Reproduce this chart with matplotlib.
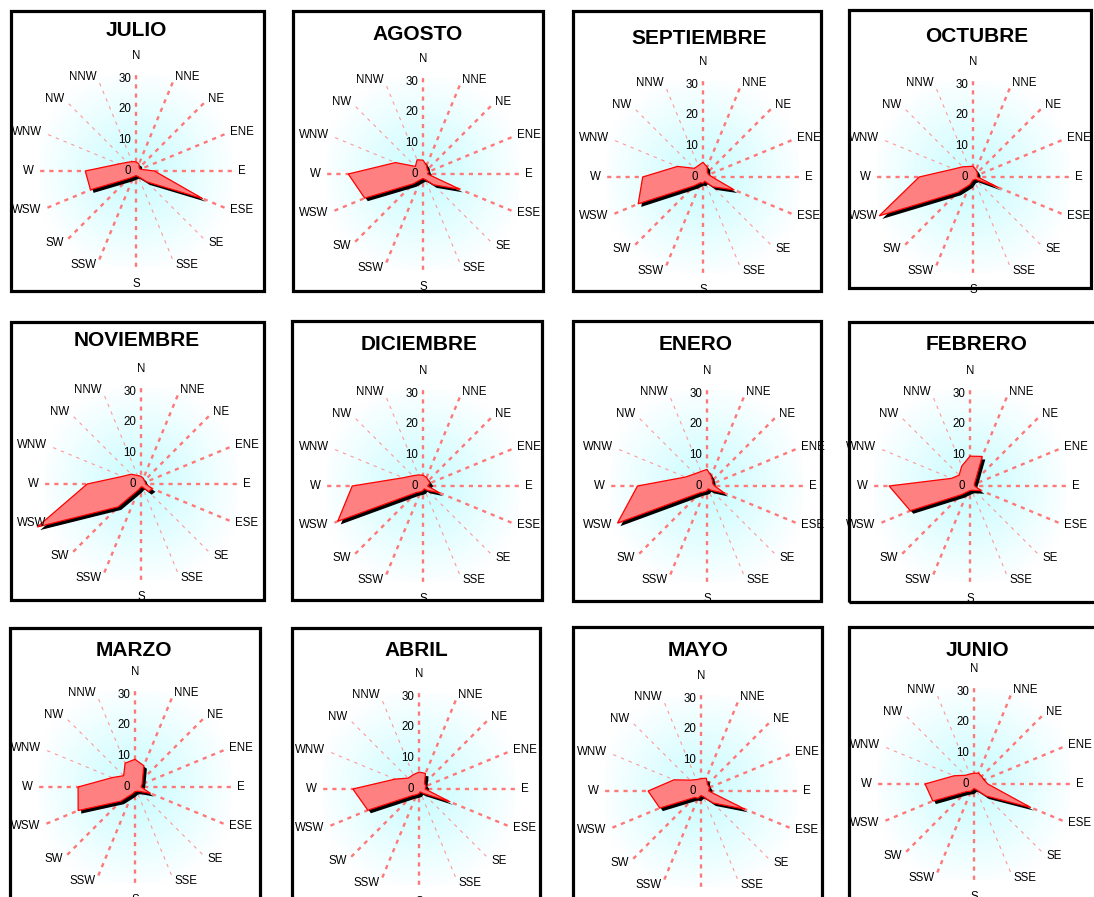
import numpy as np
import matplotlib
matplotlib.use("Agg")
from matplotlib import pyplot as plt
from matplotlib.patches import Rectangle
import matplotlib.patheffects as pe

plt.rcParams['font.family'] = ['Liberation Sans', 'DejaVu Sans']
plt.rcParams['lines.scale_dashes'] = False

W_PX, H_PX = 1094, 897

directions = ["N", "NNE", "NE", "ENE", "E", "ESE", "SE", "SSE",
              "S", "SSW", "SW", "WSW", "W", "WNW", "NW", "NNW"]
radial_ticks = [0, 10, 20, 30]

# wind frequency per direction (same order as directions)
julio = [3, 2.5, 1.5, 1.5, 6, 23.5, 5, 2, 1.5, 2, 3.5, 16, 16.5, 6, 4, 3.3]
agosto = [4.5, 3, 2, 2, 1.5, 13, 5, 2, 1.5, 2, 4.5, 20.5, 24.3, 9.7, 3.5, 5]
septiembre = [4.8, 3.5, 2, 2, 3, 11, 4.5, 1.5, 2, 2, 4, 22.8, 19.6, 9, 4, 4]
octubre = [3.5, 2.5, 2, 1.5, 1.5, 9, 1, 1, 1, 2.7, 7, 33, 17.5, 6.8, 4.7, 3.7]
noviembre = [2.5, 2, 1.5, 1.5, 1.5, 4, 3.5, 1, 1, 2, 10.5, 36.5, 17.5, 6.5, 4.5, 3]
diciembre = [3.5, 3, 2.5, 2.5, 1.5, 6, 2, 1, 1.5, 2, 3, 30, 23, 7, 4.7, 3.9]
enero = [5.4, 3.5, 2.5, 2, 2.5, 6.3, 2, 1, 1.5, 2, 3, 31.5, 22.6, 7.6, 5.6, 5.1]
febrero = [9.7, 10.4, 2.5, 1.5, 1.5, 4, 2, 1.5, 1.5, 2, 4, 21, 26.3, 6.5, 5, 7]
marzo = [9, 7.5, 3.5, 2.5, 2, 5.5, 2, 1.5, 1.5, 2.5, 6.5, 20, 18.5, 8, 5.2, 8.4]
abril = [5.5, 5.5, 2.5, 2.5, 2, 11, 2, 1, 1.5, 2, 3, 18, 21.5, 8.4, 5, 5]
mayo = [4, 4.5, 3, 3, 2.5, 15.5, 5.5, 2, 1.5, 2.5, 3, 14.5, 17.2, 9.5, 5, 4]
junio = [3.5, 3.8, 3.5, 3.5, 4.5, 20, 5.5, 2, 1.5, 2.5, 3.5, 14.5, 15.9, 7, 4, 3.5]

months = ["JULIO", "AGOSTO", "SEPTIEMBRE", "OCTUBRE",
          "NOVIEMBRE", "DICIEMBRE", "ENERO", "FEBRERO",
          "MARZO", "ABRIL", "MAYO", "JUNIO"]
month_values = [julio, agosto, septiembre, octubre,
                noviembre, diciembre, enero, febrero,
                marzo, abril, mayo, junio]

# layout in pixels: frame (left, top, right, bottom), rose centre, title centre
frames = [(11, 11, 264, 291), (293, 11, 543, 291), (573, 11, 821, 291), (849, 10, 1091, 288),
          (11, 322, 264, 600), (292, 321, 542, 600), (573, 321, 821, 601), (849, 322, 1096, 602),
          (10, 628, 260, 905), (292, 628, 540, 905), (573, 627, 822, 905), (849, 627, 1096, 905)]
centres = [(136, 171), (423, 174), (703, 177), (973, 177),
           (141, 484), (423, 486), (707, 486), (970, 486),
           (135, 787), (419, 789), (701, 791), (974, 784)]
titles = [(136, 30), (418, 34), (699, 38), (977, 37),
          (137, 341), (419, 344), (696, 344), (977, 344),
          (134, 650), (416, 650), (698, 650), (977, 650)]

R_MAX = 32.5      # value at the end of each spoke
R_PX = 100        # spoke length in pixels
THIN = {"NNW", "NW", "WNW", "SE", "SSE"}
LABEL_SIZE = 8.3


def fx(x):
    return x / W_PX


def fy(y):
    return 1 - y / H_PX


def gradient_image(n=200, half=96):
    # cyan in the middle fading out to white towards the edges
    yy, xx = np.mgrid[-half:half:n * 1j, -half:half:n * 1j]
    t = np.clip(np.hypot(xx, yy) / 104, 0, 1) ** 0.9
    img = np.ones((n, n, 3))
    img[..., 0] = 0.76 + 0.24 * t
    img[..., 1] = 0.99 + 0.01 * t
    return img


def draw_rose(fig, name, values, frame, centre, title_xy):
    l, t, r, b = frame
    box = Rectangle((fx(l), fy(b)), (r - l) / W_PX, (b - t) / H_PX,
                    transform=fig.transFigure, fill=False,
                    edgecolor="black", linewidth=2.3, zorder=5)
    fig.add_artist(box)

    cx, cy = centre
    half = 96
    bg = fig.add_axes([fx(cx - half), fy(cy + half), 2 * half / W_PX, 2 * half / H_PX])
    bg.imshow(gradient_image(half=half), extent=(-1, 1, -1, 1), aspect="auto")
    bg.axis("off")

    ax = fig.add_axes([fx(cx - R_PX), fy(cy + R_PX), 2 * R_PX / W_PX, 2 * R_PX / H_PX],
                      projection="polar")
    ax.set_theta_zero_location("N")
    ax.set_theta_direction(-1)
    ax.set_facecolor("none")
    ax.spines["polar"].set_visible(False)
    ax.grid(False)

    theta = np.deg2rad(np.arange(len(directions)) * 22.5)

    # dashed spokes
    for th, d in zip(theta, directions):
        if d in THIN:
            ax.plot([th, th], [0, R_MAX], color="#ff9a9a", lw=0.8,
                    linestyle=(0, (2.5, 3.5)), zorder=1)
        else:
            ax.plot([th, th], [0, R_MAX], color="#ff7878", lw=1.7,
                    linestyle=(0, (3.0, 3.6)), zorder=1)

    vals = np.asarray(values, dtype=float)
    poly, = ax.fill(np.append(theta, theta[0]), np.append(vals, vals[0]),
                    facecolor="#ff8080", edgecolor="red", linewidth=0.9, zorder=3,
                    path_effects=[pe.SimplePatchShadow(offset=(2.2, -2.2),
                                                       shadow_rgbFace="black", alpha=1.0),
                                  pe.Normal()])
    poly.set_clip_path(box)

    ax.set_ylim(0, R_MAX)
    ax.set_xticks([])
    ax.set_yticks([])

    # direction names round the rose, written over the polygon
    for th, d in zip(theta, directions):
        deg = np.rad2deg(th)
        if d == "N":
            ax.text(th, 37.3, d, ha="center", va="center", fontsize=LABEL_SIZE,
                    clip_on=False, zorder=6)
        elif d == "S":
            txt = ax.text(th, 36.8, d, ha="center", va="center", fontsize=LABEL_SIZE, zorder=6)
            txt.set_clip_path(box)
        elif deg < 180:
            ax.text(th, 33.2, d, ha="left", va="center", fontsize=LABEL_SIZE,
                    clip_on=False, zorder=6)
        else:
            txt = ax.text(th, 33.2, d, ha="right", va="center", fontsize=LABEL_SIZE, zorder=6)
            txt.set_clip_path(box)

    # value scale along the north spoke
    for v in radial_ticks:
        ax.annotate(str(v), xy=(0, v), xytext=(-3.5, 0), textcoords="offset points",
                    ha="right", va="center", fontsize=LABEL_SIZE, zorder=6,
                    annotation_clip=False)

    fig.text(fx(title_xy[0]), fy(title_xy[1]), name, ha="center", va="center",
             fontsize=15, fontweight="bold")


def main():
    fig = plt.figure(figsize=(W_PX / 100, H_PX / 100), dpi=100)
    fig.patch.set_facecolor("white")
    for name, values, frame, centre, title_xy in zip(months, month_values,
                                                     frames, centres, titles):
        draw_rose(fig, name, values, frame, centre, title_xy)
    fig.savefig("out.png", dpi=100)


if __name__ == "__main__":
    main()
